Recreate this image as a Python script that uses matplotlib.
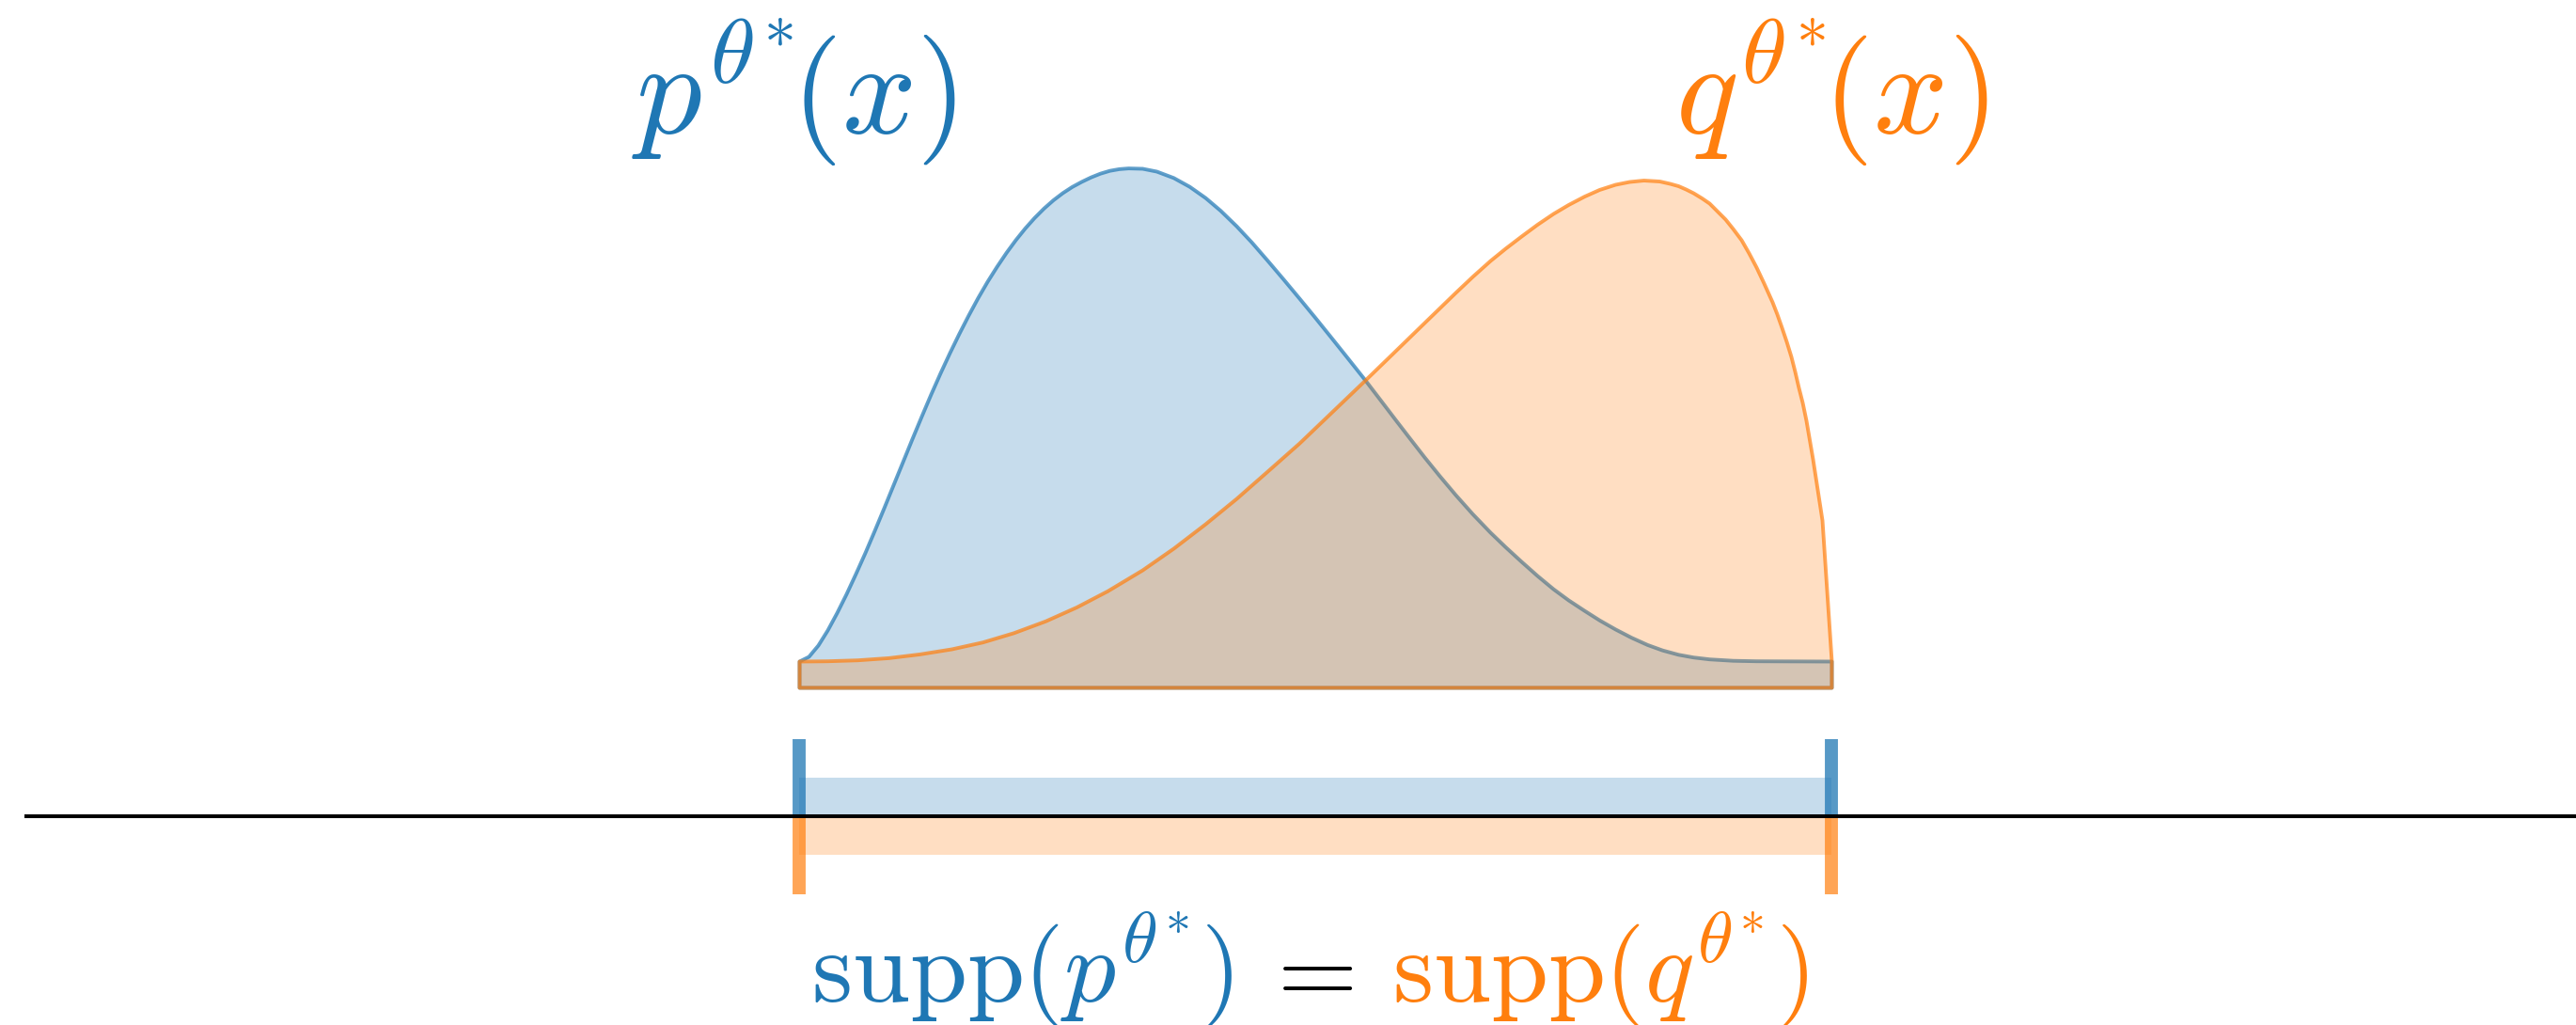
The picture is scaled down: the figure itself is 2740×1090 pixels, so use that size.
import matplotlib
matplotlib.use("Agg")
import matplotlib.pyplot as plt
from matplotlib.colors import to_rgba

plt.rcParams['mathtext.fontset'] = 'cm'

# ---- data ----
support = [0.0, 1.0]

p_x = [0.0, 0.0091, 0.0182, 0.0273, 0.0364, 0.0455, 0.0546, 0.0638, 0.0729, 0.0820,
       0.0911, 0.1002, 0.1093, 0.1184, 0.1275, 0.1366, 0.1457, 0.1548, 0.1639, 0.1730,
       0.1821, 0.1913, 0.2004, 0.2095, 0.2186, 0.2277, 0.2368, 0.2459, 0.2550, 0.2641,
       0.2732, 0.2823, 0.2914, 0.3005, 0.3097, 0.3188,
       0.3324, 0.3461, 0.3625, 0.3780, 0.3934, 0.4080, 0.4235, 0.4381, 0.4536, 0.4690,
       0.4845, 0.4991, 0.5146, 0.5310, 0.5483, 0.5628, 0.5783, 0.5920, 0.6056, 0.6202,
       0.6357, 0.6521, 0.6694, 0.6840, 0.6995, 0.7149, 0.7304, 0.7450, 0.7605, 0.7750,
       0.7905, 0.8060, 0.8215, 0.8361, 0.8515, 0.8661, 0.8816, 0.9044, 0.9271, 1.0]
p_y = [0.140, 0.165, 0.225, 0.305, 0.3975, 0.4975, 0.605, 0.7175, 0.835, 0.955,
       1.0775, 1.200, 1.3225, 1.4425, 1.560, 1.6725, 1.780, 1.8825, 1.980, 2.0725,
       2.1585, 2.2385, 2.3125, 2.3805, 2.4425, 2.4985, 2.5485, 2.5925, 2.6305, 2.663,
       2.690, 2.714, 2.734, 2.749, 2.758, 2.762,
       2.760, 2.745, 2.711, 2.664, 2.6045, 2.5365, 2.454, 2.3685, 2.2705, 2.171,
       2.069, 1.9715, 1.866, 1.7535, 1.634, 1.530, 1.4185, 1.321, 1.225, 1.126,
       1.025, 0.924, 0.825, 0.748, 0.670, 0.595, 0.5245, 0.4655, 0.4095, 0.359,
       0.3105, 0.2665, 0.228, 0.199, 0.176, 0.1615, 0.1515, 0.144, 0.1415, 0.140]

q_x = [0.0, 0.0273, 0.0565, 0.0865, 0.1166, 0.1475, 0.1776, 0.2077, 0.2386, 0.2687,
       0.2987, 0.3324, 0.3625, 0.3934, 0.4235, 0.4536, 0.4845, 0.5146, 0.5483, 0.5756,
       0.6056, 0.6357, 0.6521, 0.6694, 0.6840, 0.6995, 0.7149, 0.7304, 0.7450, 0.7605,
       0.7750, 0.7905, 0.8042, 0.8179, 0.8333, 0.8434, 0.8515, 0.8588, 0.8661, 0.8743,
       0.8816, 0.8889, 0.8971, 0.9044, 0.9126, 0.9199, 0.9271, 0.9344, 0.9426, 0.9472,
       0.9517, 0.9563, 0.9608, 0.9645, 0.9681, 0.9718, 0.9754, 0.9818, 0.9909, 1.0]
q_y = [0.140, 0.1415, 0.1465, 0.158, 0.178, 0.205, 0.2415, 0.291, 0.354, 0.428,
       0.514, 0.625, 0.740, 0.870, 1.005, 1.150, 1.300, 1.458, 1.635, 1.780,
       1.940, 2.100, 2.185, 2.270, 2.335, 2.400, 2.4625, 2.520, 2.5675, 2.612,
       2.6475, 2.675, 2.690, 2.6975, 2.6925, 2.680, 2.6675, 2.650, 2.630, 2.6025,
       2.575, 2.535, 2.490, 2.440, 2.380, 2.310, 2.235, 2.150, 2.050, 1.985,
       1.915, 1.840, 1.760, 1.680, 1.595, 1.515, 1.420, 1.215, 0.890, 0.140]

p_label = r'$p^{\theta^{\ast}}\!(x)$'
q_label = r'$q^{\theta^{\ast}}\!(x)$'
eq_left = r'$\mathrm{supp}(p^{\theta^{\ast}})$'
eq_mid = r'$=$'
eq_right = r'$\mathrm{supp}(q^{\theta^{\ast}})$'

BLUE = '#1f77b4'
ORANGE = '#ff7f0e'

# ---- figure ----
fig = plt.figure(figsize=(27.4, 10.9), dpi=100)
ax = fig.add_axes([0, 0, 1, 1])
ax.set_xlim(-0.7741, 1.7213)
ax.set_ylim(-1.795, 3.655)
ax.axis('off')

lw_curve = 2.8
ax.fill_between(p_x, p_y, 0, facecolor=to_rgba(BLUE, 0.25),
                edgecolor=to_rgba(BLUE, 0.7), linewidth=lw_curve, zorder=2)
ax.fill_between(q_x, q_y, 0, facecolor=to_rgba(ORANGE, 0.25),
                edgecolor=to_rgba(ORANGE, 0.7), linewidth=lw_curve, zorder=3)

# number line
line_y = -0.685
bar_h = 0.205
ax.plot([-0.75, 1.8], [line_y, line_y], color='black', lw=2.9,
        solid_capstyle='butt', zorder=6)

# support bars
ax.barh(line_y + bar_h / 2, support[1] - support[0], left=support[0],
        height=bar_h, color=to_rgba(BLUE, 0.25), linewidth=0, zorder=4)
ax.barh(line_y - bar_h / 2, support[1] - support[0], left=support[0],
        height=bar_h, color=to_rgba(ORANGE, 0.25), linewidth=0, zorder=4)

# support end ticks
for s in support:
    ax.plot([s, s], [line_y, line_y + 0.41], color=BLUE, alpha=0.75,
            lw=10, solid_capstyle='butt', zorder=5)
    ax.plot([s, s], [line_y, line_y - 0.415], color=ORANGE, alpha=0.7,
            lw=10, solid_capstyle='butt', zorder=5)

# labels
ax.text(-0.162, 2.945, p_label, color=BLUE, fontsize=100,
        ha='left', va='baseline')
ax.text(0.849, 2.945, q_label, color=ORANGE, fontsize=100,
        ha='left', va='baseline')

eq_y = -1.675
ax.text(0.012, eq_y, eq_left, color=BLUE, fontsize=79, ha='left', va='baseline')
ax.text(0.445, eq_y, eq_mid, color='black', fontsize=79, ha='left', va='baseline')
ax.text(0.575, eq_y, eq_right, color=ORANGE, fontsize=79, ha='left', va='baseline')

fig.savefig('out.png', dpi=100)
